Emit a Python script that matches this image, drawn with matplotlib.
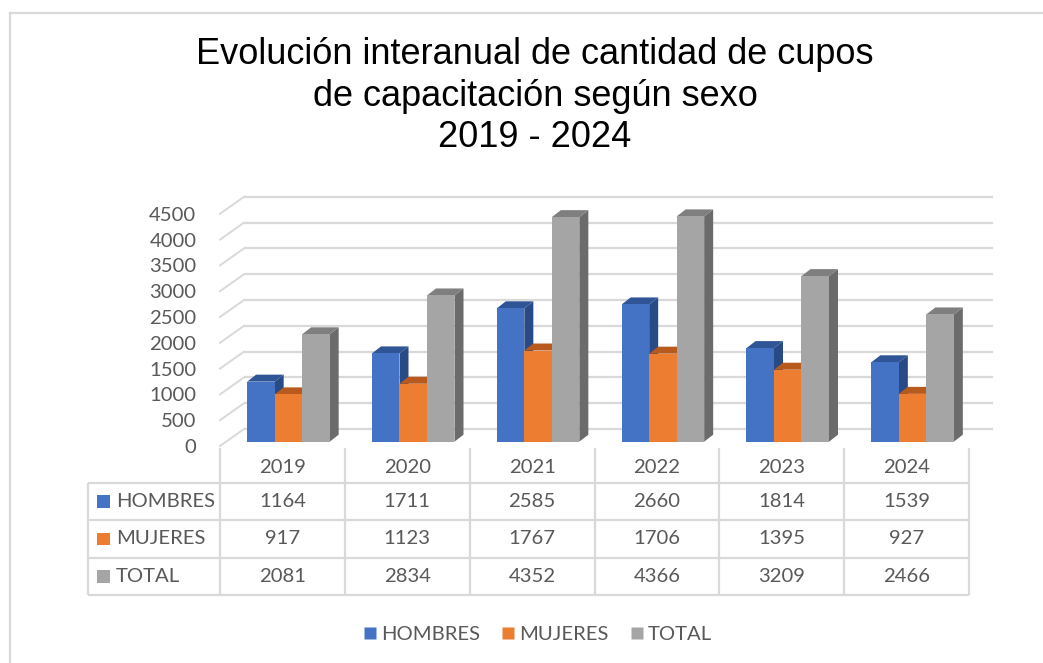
import matplotlib
matplotlib.use("Agg")
import matplotlib.pyplot as plt
from matplotlib.patches import Polygon, Rectangle
from matplotlib.lines import Line2D

# ---------------- data ----------------
years = ["2019", "2020", "2021", "2022", "2023", "2024"]
series_names = ["HOMBRES", "MUJERES", "TOTAL"]
hombres = [1164, 1711, 2585, 2660, 1814, 1539]
mujeres = [917, 1123, 1767, 1706, 1395, 927]
total = [2081, 2834, 4352, 4366, 3209, 2466]
yticks = [0, 500, 1000, 1500, 2000, 2500, 3000, 3500, 4000, 4500]
title = "Evolución interanual de cantidad de cupos\nde capacitación según sexo\n2019 - 2024"

front_colors = ["#4472C4", "#ED7D31", "#A5A5A5"]
top_colors = ["#2F5597", "#B85A1E", "#7F7F7F"]
side_colors = ["#284A85", "#A04E18", "#6B6B6B"]
grid_color = "#D9D9D9"
text_color = "#595959"
label_font = "Lato"
fs = 14.6

W, H = 1043, 663
fig = plt.figure(figsize=(W / 100, H / 100), dpi=100)

def fx(px):
    return px / W

def fy(py):
    return 1 - py / H

# front plane axes: x 220..969 px, y 446 (0) .. 213.8 (4500)
ax_l, ax_r, ax_b, ax_t = 220, 969, 446, 213.8
ax = fig.add_axes([fx(ax_l), fy(ax_b), fx(ax_r - ax_l), (ax_b - ax_t) / H])
n = len(years)
ax.set_xlim(-0.5, n - 0.5)
ax.set_ylim(0, 4500)
for s in ax.spines.values():
    s.set_visible(False)
ax.set_xticks([])
ax.set_yticks(yticks)
ax.set_yticklabels([str(v) for v in yticks], fontsize=fs, color=text_color,
                   fontname=label_font)
ax.tick_params(axis="y", length=0, pad=17)

ppx = (ax_r - ax_l) / n          # pixels per x unit
ppy = (ax_b - ax_t) / 4500.0     # pixels per value unit

def ux(px):
    return px / ppx

def uy(px):
    return px / ppy

# back wall offset
wdx, wdy = ux(24), uy(17)
x0, x1 = -0.5, n - 0.5
for v in yticks:
    ax.plot([x0 + wdx, x1 + wdx], [v + wdy, v + wdy], color=grid_color,
            lw=1.6, clip_on=False, zorder=1, solid_capstyle="butt")
    ax.plot([x0, x0 + wdx], [v, v + wdy], color=grid_color,
            lw=1.4, clip_on=False, zorder=1)

# bars
series = [hombres, mujeres, total]
bw = ux(27.5)
bdx, bdy = ux(6), uy(4.3)       # position of bar front face in depth
ddx, ddy = ux(9), uy(7)         # bar depth
for i in range(n):
    left = i - 1.5 * bw
    for k, vals in enumerate(series):
        v = vals[i]
        xl = left + k * bw + bdx
        xr = xl + bw
        yb = bdy
        yt = v + bdy
        z = 2 + i * 0.1 + k * 0.01
        side = Polygon([(xr, yb), (xr + ddx, yb + ddy), (xr + ddx, yt + ddy), (xr, yt)],
                       closed=True, facecolor=side_colors[k], edgecolor="none",
                       clip_on=False, zorder=z)
        top = Polygon([(xl, yt), (xl + ddx, yt + ddy), (xr + ddx, yt + ddy), (xr, yt)],
                      closed=True, facecolor=top_colors[k], edgecolor="none",
                      clip_on=False, zorder=z)
        front = Rectangle((xl, yb), bw, v, facecolor=front_colors[k],
                          edgecolor="none", clip_on=False, zorder=z + 0.005)
        ax.add_patch(side)
        ax.add_patch(top)
        ax.add_patch(front)

# ---------------- data table ----------------
tb_l, tb_r, tb_t, tb_b = 88, 969, 448, 595
tax = fig.add_axes([fx(tb_l), fy(tb_b), fx(tb_r - tb_l), (tb_b - tb_t) / H])
lab_w = ux(ax_l - tb_l)
tax.set_xlim(-0.5 - lab_w, n - 0.5)
hdr = 35.0 / ((tb_b - tb_t - 35.0) / 3.0)
tax.set_ylim(3 + hdr, 0)
tax.axis("off")
row_edges = [0, hdr, hdr + 1, hdr + 2, hdr + 3]
for c in range(n + 1):
    xc = c - 0.5
    tax.plot([xc, xc], [0, row_edges[-1]], color=grid_color, lw=1.6,
             clip_on=False, solid_capstyle="butt")
tax.plot([-0.5 - lab_w] * 2, [hdr, row_edges[-1]], color=grid_color, lw=1.6,
         clip_on=False, solid_capstyle="butt")
for r in row_edges[1:]:
    tax.plot([-0.5 - lab_w, n - 0.5], [r, r], color=grid_color, lw=1.6,
             clip_on=False, solid_capstyle="butt")
for i, yr in enumerate(years):
    tax.text(i, hdr / 2 + 0.05, yr, ha="center", va="center", fontsize=fs,
             color=text_color, fontname=label_font)
for k, (name, vals) in enumerate(zip(series_names, series)):
    yc = hdr + k + 0.5
    tax.add_patch(Rectangle((-0.5 - lab_w + ux(9), yc - 0.17), ux(13), 0.34,
                            facecolor=front_colors[k], edgecolor="none"))
    tax.text(-0.5 - lab_w + ux(28), yc, name, ha="left", va="center",
             fontsize=fs, color=text_color, fontname=label_font)
    for i, v in enumerate(vals):
        tax.text(i, yc, str(v), ha="center", va="center", fontsize=fs,
                 color=text_color, fontname=label_font)

# ---------------- legend ----------------
handles = [Line2D([], [], marker="s", linestyle="none", markersize=9,
                  markerfacecolor=c, markeredgecolor="none") for c in front_colors]
fig.legend(handles, series_names, loc="center", bbox_to_anchor=(fx(537), fy(634)),
           ncol=3, frameon=False, handletextpad=0.15, columnspacing=1.0,
           prop={"family": label_font, "size": fs}, labelcolor=text_color,
           handlelength=0.8)

# ---------------- title ----------------
fig.text(fx(535), fy(96), title, ha="center", va="center", fontsize=26,
         fontname="Liberation Sans", color="black", linespacing=1.24)

# ---------------- chart border ----------------
fig.add_artist(Line2D([fx(10), fx(10)], [fy(12.5), 0], color=grid_color, lw=1.6))
fig.add_artist(Line2D([fx(10), 1], [fy(12.5), fy(12.5)], color=grid_color, lw=1.6))

fig.savefig("out.png", dpi=100)
